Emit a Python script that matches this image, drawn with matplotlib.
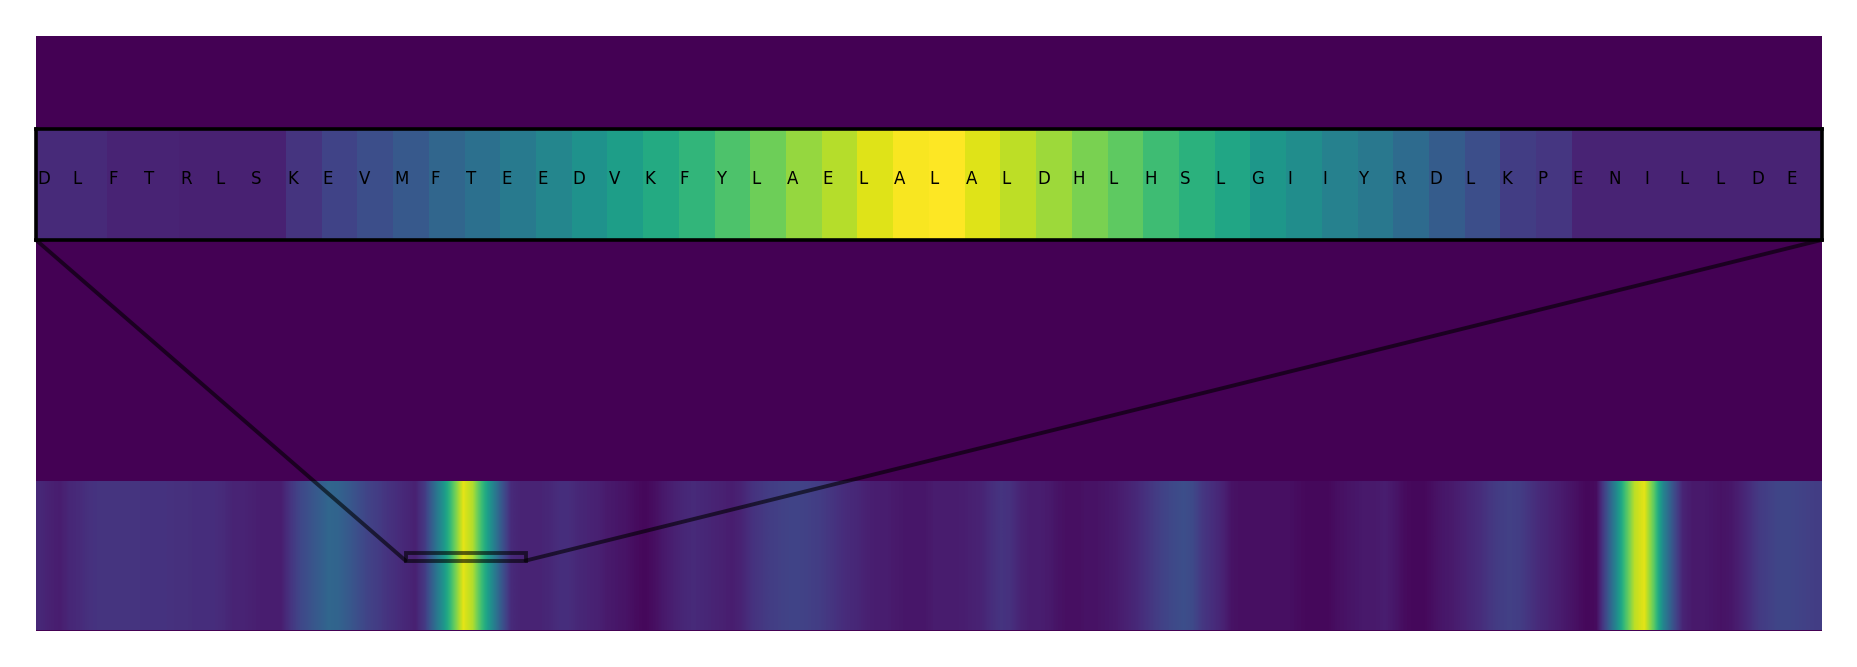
import numpy as np
import matplotlib
matplotlib.use("Agg")
import matplotlib.pyplot as plt
from matplotlib.patches import Rectangle, ConnectionPatch

# ---- data ----
seq_length = 744
# full-length profile, one value per block of 4 residues (read from the strip)
strip_values = [
    0.11, 0.09, 0.08, 0.11, 0.12, 0.14, 0.15, 0.15, 0.15, 0.15,
    0.15, 0.145, 0.145, 0.145, 0.14, 0.14, 0.13, 0.13, 0.13, 0.12,
    0.10, 0.10, 0.09, 0.08, 0.08, 0.08, 0.15, 0.21, 0.25, 0.29,
    0.33, 0.32, 0.28, 0.24, 0.20, 0.18, 0.15, 0.13, 0.11, 0.09,
    0.17, 0.35, 0.53, 0.75, 0.96, 0.88, 0.67, 0.47, 0.27, 0.12,
    0.10, 0.10, 0.10, 0.11, 0.13, 0.13, 0.11, 0.10, 0.09, 0.07,
    0.06, 0.05, 0.03, 0.02, 0.04, 0.07, 0.09, 0.11, 0.12, 0.11,
    0.10, 0.09, 0.08, 0.10, 0.14, 0.16, 0.18, 0.19, 0.20, 0.20,
    0.19, 0.18, 0.16, 0.14, 0.12, 0.11, 0.09, 0.08, 0.08, 0.07,
    0.06, 0.06, 0.06, 0.075, 0.075, 0.075, 0.08, 0.09, 0.10, 0.13,
    0.15, 0.14, 0.10, 0.08, 0.08, 0.07, 0.05, 0.04, 0.04, 0.05,
    0.05, 0.06, 0.07, 0.09, 0.11, 0.14, 0.17, 0.20, 0.22, 0.24,
    0.22, 0.16, 0.13, 0.10, 0.05, 0.04, 0.04, 0.04, 0.04, 0.04,
    0.04, 0.03, 0.02, 0.02, 0.02, 0.04, 0.05, 0.06, 0.07, 0.07,
    0.08, 0.06, 0.03, 0.02, 0.02, 0.04, 0.06, 0.07, 0.09, 0.11,
    0.13, 0.16, 0.18, 0.19, 0.18, 0.15, 0.12, 0.10, 0.08, 0.06,
    0.04, 0.02, 0.03, 0.22, 0.45, 0.70, 0.90, 0.96, 0.75, 0.45,
    0.25, 0.10, 0.07, 0.07, 0.06, 0.05, 0.06, 0.09, 0.13, 0.17,
    0.19, 0.21, 0.21, 0.20, 0.19, 0.18,
]

zoom_start = 154
zoom_residues = list("DLFTRLSKEVMFTEEDVKFYLAELALALDHLHSLGIIYRDLKPENILLDE")
zoom_values = [
    0.12, 0.12, 0.10, 0.10, 0.09, 0.09, 0.09, 0.15, 0.20, 0.24,
    0.28, 0.33, 0.37, 0.41, 0.46, 0.51, 0.56, 0.61, 0.66, 0.72,
    0.78, 0.84, 0.89, 0.95, 0.99, 1.00, 0.95, 0.90, 0.855, 0.80,
    0.75, 0.69, 0.64, 0.59, 0.53, 0.49, 0.44, 0.40, 0.35, 0.29,
    0.24, 0.18, 0.16, 0.10, 0.10, 0.10, 0.10, 0.10, 0.10, 0.10,
]

cmap = plt.get_cmap("viridis")

fig = plt.figure(figsize=(18.57, 6.67), dpi=100)
ax = fig.add_axes([36 / 1857, (667 - 630.5) / 667, 1785.5 / 1857, 594.5 / 667])
ax.set_facecolor(cmap(0.0))
strip = np.array(strip_values)[np.newaxis, :]
ax.imshow(strip, cmap=cmap, vmin=0, vmax=1, aspect="auto",
          extent=(0, seq_length, 0, 1), interpolation="bilinear")
ax.set_xlim(0, seq_length)
ax.set_ylim(0, 4)
ax.set_xticks([])
ax.set_yticks([])
for s in ax.spines.values():
    s.set_visible(False)

n_zoom = len(zoom_values)
axins = ax.inset_axes([0, 0.6569, 1, 0.1867])
axins.imshow(np.array(zoom_values)[np.newaxis, :], cmap=cmap, vmin=0, vmax=1,
             aspect="auto", extent=(0, n_zoom, -0.5, 0.5), interpolation="nearest")
for i, aa in enumerate(zoom_residues):
    axins.text(i + 0.03, 0, aa, ha="left", va="baseline", fontsize=12, color="black")
axins.set_xlim(0, n_zoom)
axins.set_ylim(-0.5, 0.5)
axins.set_xticks([])
axins.set_yticks([])
for s in axins.spines.values():
    s.set_linewidth(2.6)
    s.set_color("black")

# zoom indicator: rectangle on the strip + connectors to the inset's lower corners
rect_y0, rect_h = 0.47, 0.05
style = dict(edgecolor="black", alpha=0.6, linewidth=2.8)
ax.add_patch(Rectangle((zoom_start, rect_y0), n_zoom, rect_h, facecolor="none",
                       zorder=4.99, **style))
for ex in (0, 1):
    con = ConnectionPatch(xyA=(ex, 0), coordsA=axins.transAxes,
                          xyB=(zoom_start + ex * n_zoom, rect_y0), coordsB=ax.transData,
                          arrowstyle="-", zorder=4.99, **style)
    ax.add_artist(con)

fig.savefig("out.png", dpi=100)
